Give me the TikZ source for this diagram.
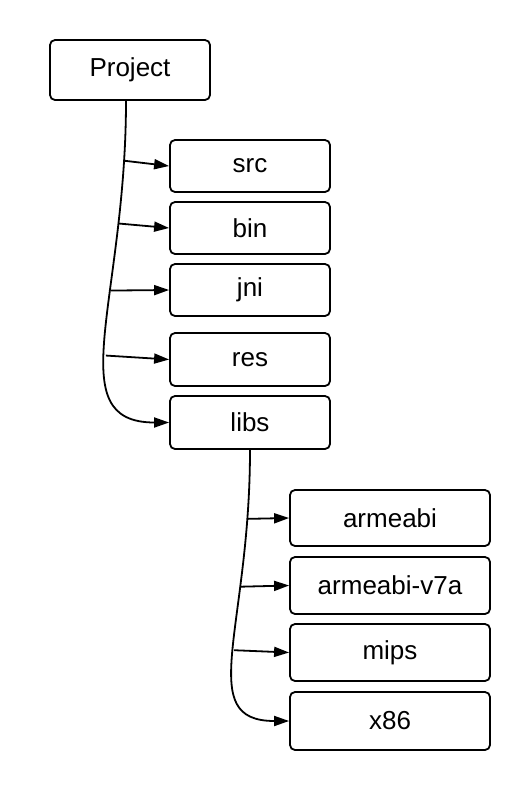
\documentclass[tikz,border=0pt]{standalone}
\usepackage{fontspec}
\setmainfont{Liberation Sans}
\usetikzlibrary{arrows.meta}
\begin{document}
\begin{tikzpicture}[x=1pt,y=-1pt,
  box/.style={draw, line width=1.8pt, rounded corners=5pt, minimum width=160pt, minimum height=52pt, inner sep=0pt, font=\fontsize{26}{30}\selectfont},
  wide/.style={box, minimum width=200pt, minimum height=57pt},
  conn/.style={line width=1.8pt, -{Triangle[length=15pt,width=10pt]}}
]
\path[use as bounding box] (0,0) rectangle (530,790);
\node[box, minimum height=60pt] (proj) at (130,70) {Project};
\node[box] (src) at (250,166) {src};
\node[box] (bin) at (250,228) {bin};
\node[box] (jni) at (250,290) {jni};
\node[box, minimum height=53pt] (res) at (250,359.5) {res};
\node[box, minimum height=53pt] (libs) at (250,422.5) {libs};
\node[wide, minimum height=56pt] (arm) at (390,518) {armeabi};
\node[wide] (armv) at (390,585.5) {armeabi-v7a};
\node[wide] (mips) at (390,652.5) {mips};
\node[wide, minimum height=58pt] (x86) at (390,721) {x86};

\draw[conn] ([xshift=-4pt]proj.south) .. controls +(0,200) and +(-110,0) .. (libs.west)
  coordinate[pos=0.104] (b1) coordinate[pos=0.225] (b2)
  coordinate[pos=0.375] (b3) coordinate[pos=0.56] (b4);
\draw[conn] (b1) -- (src.west);
\draw[conn] (b2) -- (bin.west);
\draw[conn] (b3) -- (jni.west);
\draw[conn] (b4) -- (res.west);

\draw[conn] (libs.south) .. controls +(0,180) and +(-95,0) .. (x86.west)
  coordinate[pos=0.137] (c1) coordinate[pos=0.297] (c2) coordinate[pos=0.49] (c3);
\draw[conn] (c1) -- (arm.west);
\draw[conn] (c2) -- (armv.west);
\draw[conn] (c3) -- (mips.west);
\end{tikzpicture}
\end{document}
